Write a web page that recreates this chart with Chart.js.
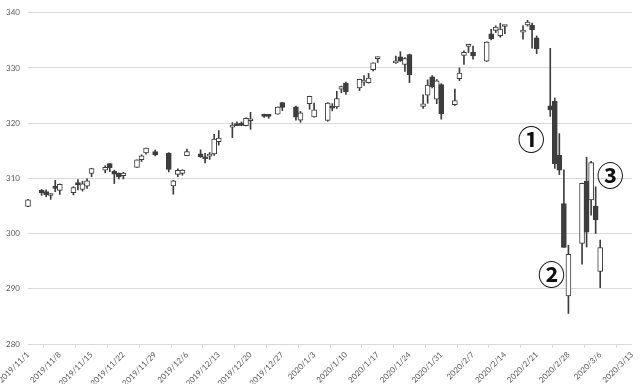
<!DOCTYPE html>
<html>
<head>
<meta charset="utf-8">
<script src="https://cdn.jsdelivr.net/npm/chart.js@4"></script>
<style>
  html, body { margin: 0; padding: 0; background: #ffffff; }
  #wrap { width: 640px; height: 384px; }
</style>
</head>
<body>
<div id="wrap"><canvas id="c" width="640" height="384"></canvas></div>
<script>
// ---- data ----
const startDate = '2019-11-01';
const tickLabels = ['2019/11/1','2019/11/8','2019/11/15','2019/11/22','2019/11/29','2019/12/6','2019/12/13','2019/12/20','2019/12/27','2020/1/3','2020/1/10','2020/1/17','2020/1/24','2020/1/31','2020/2/7','2020/2/14','2020/2/21','2020/2/28','2020/3/6','2020/3/13'];
const yTicks = [280, 290, 300, 310, 320, 330, 340];

const dates = ['2019-11-01','2019-11-04','2019-11-05','2019-11-06','2019-11-07','2019-11-08','2019-11-11','2019-11-12','2019-11-13','2019-11-14','2019-11-15','2019-11-18','2019-11-19','2019-11-20','2019-11-21','2019-11-22','2019-11-25','2019-11-26','2019-11-27','2019-11-29',
'2019-12-02','2019-12-03','2019-12-04','2019-12-05','2019-12-06','2019-12-09','2019-12-10','2019-12-11','2019-12-12','2019-12-13','2019-12-16','2019-12-17','2019-12-18','2019-12-19','2019-12-20','2019-12-23','2019-12-24','2019-12-26','2019-12-27','2019-12-30','2019-12-31',
'2020-01-02','2020-01-03','2020-01-06','2020-01-07','2020-01-08','2020-01-09','2020-01-10','2020-01-13','2020-01-14','2020-01-15','2020-01-16','2020-01-17','2020-01-21','2020-01-22','2020-01-23','2020-01-24','2020-01-27','2020-01-28','2020-01-29','2020-01-30','2020-01-31',
'2020-02-03','2020-02-04','2020-02-05','2020-02-06','2020-02-07','2020-02-10','2020-02-11','2020-02-12','2020-02-13','2020-02-14','2020-02-18','2020-02-19','2020-02-20','2020-02-21','2020-02-24','2020-02-25','2020-02-26','2020-02-27','2020-02-28',
'2020-03-02','2020-03-03','2020-03-04','2020-03-05','2020-03-06'];

const openV = [304.92,307.85,307.59,306.90,308.60,307.80,307.40,308.95,308.00,308.60,310.90,311.50,312.68,311.29,310.92,310.50,311.98,313.41,314.61,314.86,
314.59,308.65,310.70,310.90,314.12,314.44,313.82,314.03,314.43,316.66,319.30,319.93,320.00,319.55,320.45,321.59,321.47,321.65,323.74,322.95,320.53,
323.54,321.16,320.49,323.02,322.94,326.16,327.29,326.39,327.44,327.35,329.71,331.70,330.90,332.04,330.63,332.44,323.03,325.06,328.38,324.36,327.00,
323.35,328.07,332.27,333.91,332.82,331.23,336.17,336.83,335.86,337.51,336.51,337.79,337.74,335.47,323.14,323.94,314.18,305.46,288.70,
298.21,309.50,306.12,304.98,293.15];

const highV = [306.19,308.00,307.92,307.20,309.65,309.00,308.50,309.80,309.50,309.90,311.84,312.30,312.69,311.50,311.00,311.10,313.37,314.28,315.48,315.13,
314.66,309.64,311.72,311.60,315.31,315.18,314.55,314.70,317.99,318.67,320.10,320.25,320.25,320.99,321.97,321.65,321.52,322.95,323.80,323.10,322.13,
324.89,323.64,323.73,323.54,325.78,326.73,327.46,327.96,328.62,329.02,330.92,331.98,332.18,332.95,331.89,332.53,325.12,327.85,328.63,327.91,327.17,
326.16,330.01,333.09,334.19,333.99,334.75,337.02,337.65,338.12,337.73,337.67,338.64,338.13,335.81,333.56,324.57,318.11,311.56,297.89,
309.16,313.84,313.10,308.47,298.82];

const lowV = [304.88,306.93,306.71,306.20,307.60,307.10,307.00,307.90,307.70,308.20,310.30,311.00,311.22,309.07,309.90,309.90,311.98,313.06,314.37,314.06,
311.17,307.13,310.33,310.58,314.11,313.80,312.81,313.44,314.17,316.02,317.40,319.56,319.53,319.52,318.90,321.06,320.90,321.64,322.28,320.55,320.15,
322.53,321.10,320.36,322.24,322.67,325.52,325.20,325.92,326.84,327.26,329.45,331.00,330.82,331.17,329.38,327.36,322.66,323.60,326.40,323.54,320.73,
323.22,327.72,330.67,332.80,331.60,331.19,335.09,336.43,335.56,336.20,335.21,337.59,333.60,332.58,321.24,311.81,310.70,297.51,285.54,
294.46,297.57,303.33,300.01,290.21];

const closeV = [306.14,307.37,307.03,307.10,308.18,308.94,308.35,308.86,309.00,309.55,311.79,312.02,311.93,310.78,310.27,310.96,313.37,314.08,315.48,314.31,
311.64,309.55,311.46,311.50,314.87,313.88,313.53,314.42,317.13,317.32,319.60,319.57,319.59,320.90,320.73,321.22,321.23,322.94,322.86,321.08,321.86,
324.87,322.41,323.64,322.73,324.45,326.65,325.71,327.95,327.45,328.19,330.92,331.95,331.30,331.34,331.72,328.77,323.50,326.89,326.62,327.68,321.73,
324.12,329.06,332.86,333.98,332.20,334.68,335.26,337.42,337.06,337.60,336.73,338.34,336.95,333.48,322.42,312.65,311.50,297.51,296.26,
309.09,300.24,312.86,302.46,297.46];

// annotation labels: text, position on the day axis (days after startDate), price level
const noteText = ['①', '②', '③'];
const noteDay = [110.8, 115.3, 128.2];
const notePrice = [317.0, 292.5, 310.4];

// ---- helpers ----
const DAY = 86400000;
function dayIndex(s) {
  const [y1, m1, d1] = startDate.split('-').map(Number);
  const [y, m, d] = s.split('-').map(Number);
  return Math.round((Date.UTC(y, m - 1, d) - Date.UTC(y1, m1 - 1, d1)) / DAY);
}
const lastDay = (tickLabels.length - 1) * 7;

const wickData = dates.map((d, i) => ({ x: dayIndex(d), y: [lowV[i], highV[i]] }));
const bodyData = dates.map((d, i) => ({ x: dayIndex(d), y: [openV[i], closeV[i]] }));
const candleDark = '#3d3d3d';
const bodyColors = dates.map((d, i) => closeV[i] < openV[i] ? candleDark : '#ffffff');

const notesPlugin = {
  id: 'notes',
  afterDatasetsDraw(chart) {
    const { ctx, scales } = chart;
    ctx.save();
    ctx.fillStyle = '#111111';
    ctx.font = 'bold 27px "Noto Sans CJK JP"';
    ctx.textAlign = 'center';
    ctx.textBaseline = 'middle';
    noteText.forEach((t, i) => {
      ctx.fillText(t, scales.x.getPixelForValue(noteDay[i]), scales.y.getPixelForValue(notePrice[i]));
    });
    ctx.restore();
  }
};

const tickFont = { family: 'Lato', size: 8 };
const tickColor = '#595959';

new Chart(document.getElementById('c'), {
  type: 'bar',
  data: {
    datasets: [
      {
        label: 'body', data: bodyData, order: 0, grouped: false, clip: false,
        barThickness: 5, backgroundColor: bodyColors, borderColor: candleDark,
        borderWidth: 1, borderSkipped: false, minBarLength: 2
      },
      {
        label: 'wick', data: wickData, order: 1, grouped: false, clip: false,
        barThickness: 1, backgroundColor: candleDark, borderWidth: 0
      }
    ]
  },
  options: {
    responsive: false,
    animation: false,
    devicePixelRatio: 1,
    layout: { padding: { top: 11, right: 8, left: 0, bottom: 0 } },
    plugins: { legend: { display: false }, tooltip: { enabled: false } },
    scales: {
      x: {
        type: 'linear', min: 0, max: lastDay, offset: false,
        grid: { drawOnChartArea: false, drawTicks: true, tickLength: 4, color: '#d9d9d9' },
        border: { display: false },
        ticks: {
          stepSize: 7, autoSkip: false, maxRotation: 45, minRotation: 45,
          font: tickFont, color: tickColor, padding: 2,
          callback: (v) => tickLabels[v / 7] !== undefined ? tickLabels[v / 7] : ''
        },
        afterFit: (s) => { s.height = 40; s.paddingLeft = 0; s.paddingRight = 0; }
      },
      y: {
        min: yTicks[0], max: yTicks[yTicks.length - 1],
        afterBuildTicks: (s) => { s.ticks = yTicks.map(v => ({ value: v })); },
        grid: { color: '#d9d9d9', drawTicks: false, lineWidth: 1 },
        border: { display: false },
        ticks: { font: tickFont, color: tickColor, padding: 8 },
        afterFit: (s) => { s.width = 28; }
      }
    }
  },
  plugins: [notesPlugin]
});
</script>
</body>
</html>
